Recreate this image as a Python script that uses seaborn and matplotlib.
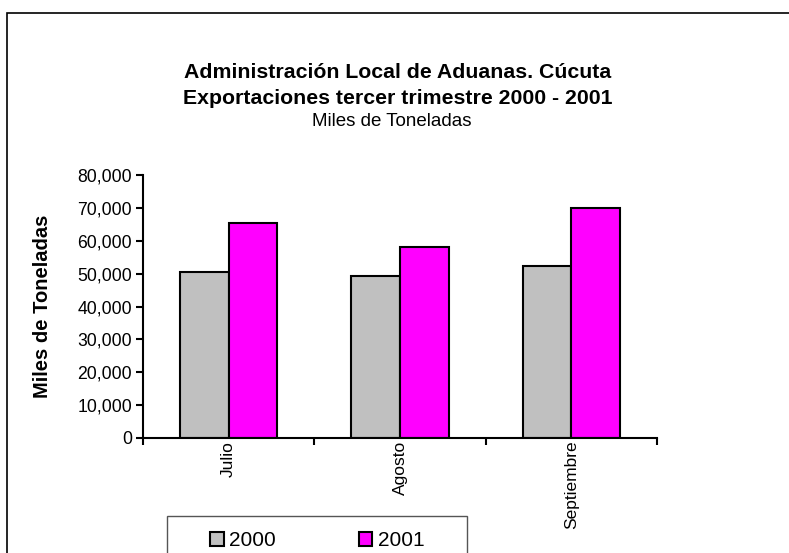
import numpy as np
import pandas as pd
import seaborn as sns
import matplotlib.pyplot as plt
from matplotlib.patches import Rectangle
from matplotlib.ticker import StrMethodFormatter

meses = ["Julio", "Agosto", "Septiembre"]
anios = ["2000", "2001"]
valores_2000 = [50500, 49400, 52400]
valores_2001 = [65400, 58200, 70000]
colores = ["#C0C0C0", "#FF00FF"]

df = pd.DataFrame({
    "mes": meses * 2,
    "anio": ["2000"] * 3 + ["2001"] * 3,
    "valor": valores_2000 + valores_2001,
})

sns.set_style("white")
plt.rcParams['font.family'] = ['Liberation Sans', 'DejaVu Sans']
for k in ['text.color', 'axes.labelcolor', 'xtick.color', 'ytick.color']:
    plt.rcParams[k] = 'black'

W, H = 789, 553
fig = plt.figure(figsize=(W / 100, H / 100), dpi=100)
ax = fig.add_axes([143 / W, 1 - 438 / H, (657 - 143) / W, (438 - 175) / H])

sns.barplot(data=df, x="mes", y="valor", hue="anio", palette=colores,
            width=0.57, edgecolor="black", linewidth=1.5, ax=ax, legend=False,
            saturation=1)

ax.set_ylim(0, 80000)
ax.set_xlim(-0.5, 2.5)
ax.set_yticks(np.arange(0, 80001, 10000))
ax.yaxis.set_major_formatter(StrMethodFormatter('{x:,.0f}'))
ax.tick_params(axis='y', labelsize=12.7, length=5, width=1.5, direction='out',
               left=True, pad=3)
ax.set_xticks(range(3))
ax.set_xticklabels(meses, rotation=90, fontsize=12.5, va='top')
ax.tick_params(axis='x', length=0, pad=2)
ax.set_xticks([-0.5, 0.5, 1.5, 2.5], minor=True)
ax.tick_params(axis='x', which='minor', length=5, width=1.5, direction='out',
               bottom=True)
ax.set_xlabel("")
ax.set_ylabel("Miles de Toneladas", fontsize=14.5, fontweight='bold', labelpad=18)
for s in ["top", "right"]:
    ax.spines[s].set_visible(False)
for s in ["left", "bottom"]:
    ax.spines[s].set_color("black")
    ax.spines[s].set_linewidth(1.5)

fig.text(398 / W, 1 - 73 / H, "Administración Local de Aduanas. Cúcuta",
         ha='center', va='center', fontsize=15.3, fontweight='bold')
fig.text(398 / W, 1 - 99 / H, "Exportaciones tercer trimestre 2000 - 2001",
         ha='center', va='center', fontsize=15.3, fontweight='bold')
fig.text(392 / W, 1 - 122 / H, "Miles de Toneladas",
         ha='center', va='center', fontsize=13.5)

# legend (frame drawn separately so it can run off the bottom edge)
handles = [Rectangle((0, 0), 1, 1, facecolor=c, edgecolor='black', linewidth=1.5)
           for c in colores]
leg = fig.legend(handles, anios, loc='center left', ncol=2,
                 bbox_to_anchor=(210 / W, 1 - 541 / H),
                 fontsize=15, frameon=False, handlelength=0.65,
                 handleheight=0.65, handletextpad=0.25, columnspacing=4.0,
                 borderpad=0, borderaxespad=0)
fig.patches.append(Rectangle((167 / W, -0.05), 300 / W, 0.05 + 1 - 516 / H,
                             transform=fig.transFigure, fill=False,
                             edgecolor='#555555', linewidth=1.0, figure=fig))

# outer chart border
fig.patches.append(Rectangle((7 / W, -0.1), 1.2, 1.1 - 13 / H,
                             transform=fig.transFigure, fill=False,
                             edgecolor='black', linewidth=1.2, figure=fig))

fig.savefig("out.png", dpi=100)
